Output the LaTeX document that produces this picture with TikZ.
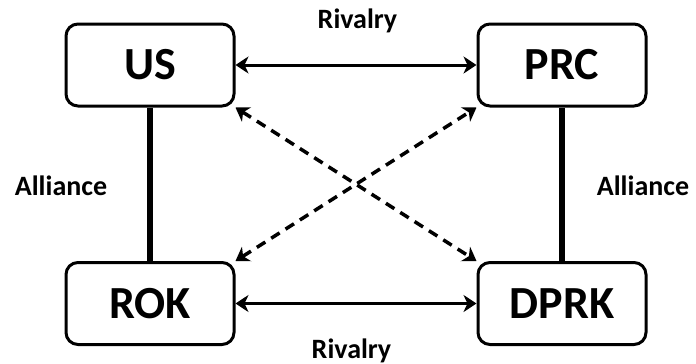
\documentclass[tikz,border=0pt]{standalone}
\usepackage{fontspec}
\setmainfont{Carlito}
\usetikzlibrary{arrows.meta}
\begin{document}
\begin{tikzpicture}[x=1pt,y=-1pt,>={Stealth[length=13pt,width=17pt,inset=4pt]},
  country/.style={draw, line width=3pt, rounded corners=12pt, minimum width=168pt, minimum height=82pt, inner sep=0pt, font=\fontsize{46}{50}\selectfont\bfseries},
  tag/.style={anchor=base, inner sep=0pt, font=\fontsize{28}{32}\selectfont\bfseries},
  rivalry/.style={<->, line width=3pt},
  alliance/.style={line width=5.5pt},
  crossarrow/.style={<->, line width=3.5pt, dash pattern=on 10pt off 7pt}]

\useasboundingbox (0,0) rectangle (696,364);

\node[country] (us) at (150,65) {US};
\node[country] (prc) at (562,65) {PRC};
\node[country] (rok) at (150,303.5) {ROK};
\node[country] (dprk) at (562,303.5) {DPRK};

\draw [rivalry] (us) -- (prc);
\draw [rivalry] (rok) -- (dprk);

\draw [alliance] (us) -- (rok);
\draw [alliance] (prc) -- (dprk);

\draw [crossarrow] (us.south east) -- (dprk.north west);
\draw [crossarrow] (rok.north east) -- (prc.south west);

\node[tag] (rivtop) at (357.5,28) {Rivalry};
\node[tag] (rivbot) at (351.5,358) {Rivalry};
\node[tag] (allleft) at (61,195) {Alliance};
\node[tag] (allright) at (643,195) {Alliance};

\end{tikzpicture}
\end{document}
